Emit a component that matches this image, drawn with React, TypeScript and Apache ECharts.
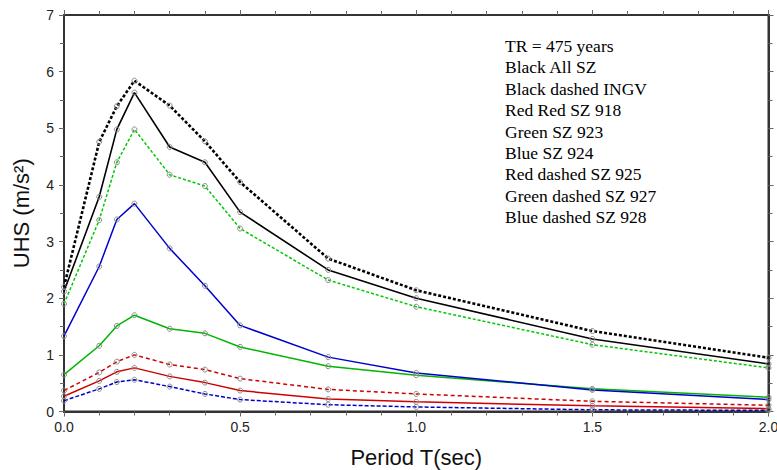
import React, { useEffect, useRef } from "react";
import * as echarts from "echarts";

const periods = [0, 0.1, 0.15, 0.2, 0.3, 0.4, 0.5, 0.75, 1.0, 1.5, 2.0];

const ingv = [2.2, 4.76, 5.39, 5.84, 5.4, 4.77, 4.05, 2.7, 2.14, 1.42, 0.95];
const allSZ = [2.12, 3.79, 4.98, 5.63, 4.67, 4.4, 3.52, 2.5, 2.0, 1.28, 0.84];
const sz927 = [1.9, 3.38, 4.4, 4.98, 4.18, 3.98, 3.23, 2.32, 1.85, 1.18, 0.77];
const sz924 = [1.33, 2.56, 3.39, 3.67, 2.88, 2.22, 1.52, 0.96, 0.68, 0.38, 0.21];
const sz923 = [0.65, 1.16, 1.51, 1.7, 1.46, 1.38, 1.14, 0.8, 0.64, 0.4, 0.25];
const sz925 = [0.37, 0.69, 0.88, 1.0, 0.83, 0.74, 0.58, 0.39, 0.31, 0.18, 0.11];
const sz918 = [0.27, 0.54, 0.7, 0.77, 0.62, 0.51, 0.37, 0.22, 0.17, 0.1, 0.05];
const sz928 = [0.19, 0.4, 0.52, 0.56, 0.44, 0.31, 0.21, 0.12, 0.08, 0.03, 0.02];

const legendLines = [
  "TR = 475 years",
  "Black All SZ",
  "Black dashed INGV",
  "Red Red SZ 918",
  "Green SZ 923",
  "Blue SZ 924",
  "Red dashed SZ 925",
  "Green dashed SZ 927",
  "Blue dashed SZ 928",
];

const xTicks = [0, 0.5, 1.0, 1.5, 2.0];

const GRID = { left: 64, right: 8.5, top: 15, bottom: 58.5 };

export default function App() {
  const ref = useRef<HTMLDivElement>(null);
  useEffect(() => {
    if (!ref.current) return;
    const chart = echarts.init(ref.current, null, { renderer: "svg" });
    const mk = (name: string, vals: number[], color: string, width: number, type: any) => ({
      name,
      type: "line",
      xAxisIndex: 0,
      yAxisIndex: 0,
      data: periods.map((p, i) => [p, vals[i]]),
      symbol: "circle",
      symbolSize: 5,
      showSymbol: true,
      lineStyle: { color, width, type },
      itemStyle: { color: "rgba(255,255,255,0)", borderColor: "#8a8a8a", borderWidth: 1 },
      emphasis: { disabled: true },
    });
    const axisLine = () => ({ show: true, onZero: false, lineStyle: { color: "#333", width: 2 } });
    const tick = () => ({ show: true, inside: false, length: 5, lineStyle: { color: "#666", width: 1 } });
    const minorTick = (n: number) => ({ show: true, splitNumber: n, length: 4, lineStyle: { color: "#666", width: 1 } });
    const font = "'Liberation Sans', Arial, Helvetica, sans-serif";
    const W = 777;
    const H = 470;
    chart.setOption({
      animation: false,
      backgroundColor: "#fff",
      grid: [
        { ...GRID, outerBoundsMode: "none", containLabel: false },
        { ...GRID, outerBoundsMode: "none", containLabel: false },
      ],
      xAxis: [
        {
          type: "value",
          gridIndex: 0,
          min: 0,
          max: 2,
          interval: 0.5,
          position: "bottom",
          axisLine: axisLine(),
          axisTick: tick(),
          minorTick: minorTick(5),
          splitLine: { show: false },
          axisLabel: {
            fontSize: 14,
            color: "#222",
            fontFamily: font,
            margin: 8,
            hideOverlap: false,
            formatter: (v: number) => (xTicks.includes(v) ? v.toFixed(1) : ""),
          },
          name: "Period T(sec)",
          nameLocation: "middle",
          nameGap: 35,
          nameTextStyle: { fontSize: 22, color: "#111", fontFamily: font, verticalAlign: "top" },
        },
        {
          type: "value",
          gridIndex: 1,
          min: 0,
          max: 2,
          interval: 0.5,
          position: "top",
          axisLine: axisLine(),
          axisTick: tick(),
          minorTick: minorTick(5),
          splitLine: { show: false },
          axisLabel: { show: false },
        },
      ],
      yAxis: [
        {
          type: "value",
          gridIndex: 0,
          min: 0,
          max: 7,
          interval: 1,
          position: "left",
          axisLine: axisLine(),
          axisTick: tick(),
          minorTick: minorTick(2),
          splitLine: { show: false },
          axisLabel: { fontSize: 14, color: "#222", fontFamily: font, margin: 10 },
          name: "UHS (m/s²)",
          nameLocation: "middle",
          nameGap: 32,
          nameTextStyle: { fontSize: 22, color: "#111", fontFamily: font },
        },
        {
          type: "value",
          gridIndex: 1,
          min: 0,
          max: 7,
          interval: 1,
          position: "right",
          axisLine: axisLine(),
          axisTick: tick(),
          minorTick: minorTick(2),
          splitLine: { show: false },
          axisLabel: { show: false },
        },
      ],
      series: [
        mk("Blue dashed SZ 928", sz928, "#0000cc", 1.5, [4, 2]),
        mk("Red SZ 918", sz918, "#d00000", 1.5, "solid"),
        mk("Red dashed SZ 925", sz925, "#d00000", 1.5, [4, 3]),
        mk("Green SZ 923", sz923, "#00b400", 1.5, "solid"),
        mk("Blue SZ 924", sz924, "#0000cc", 1.5, "solid"),
        mk("Green dashed SZ 927", sz927, "#00c800", 1.5, [3, 2]),
        mk("All SZ", allSZ, "#000000", 1.6, "solid"),
        mk("INGV", ingv, "#000000", 2.6, [3, 2]),
        {
          name: "frame",
          type: "line",
          xAxisIndex: 1,
          yAxisIndex: 1,
          data: [[0, 0]],
          symbol: "none",
          lineStyle: { width: 0 },
          silent: true,
        },
      ],
      graphic: [
        {
          type: "rect",
          silent: true,
          z: 0,
          shape: {
            x: GRID.left,
            y: GRID.top,
            width: W - GRID.left - GRID.right,
            height: H - GRID.top - GRID.bottom,
          },
          style: { fill: "none", stroke: "#333", lineWidth: 2 },
        },
        ...legendLines.map((t, i) => ({
          type: "text",
          left: 505,
          top: 37 + i * 21.4,
          style: {
            text: t,
            fontSize: 17.5,
            fontFamily: "'Liberation Serif', 'Times New Roman', serif",
            fill: "#000",
          },
        })),
      ],
    });
    return () => chart.dispose();
  }, []);
  return (
    <div
      ref={ref}
      style={{ position: "fixed", left: 0, top: 0, width: 777, height: 470 }}
    />
  );
}
